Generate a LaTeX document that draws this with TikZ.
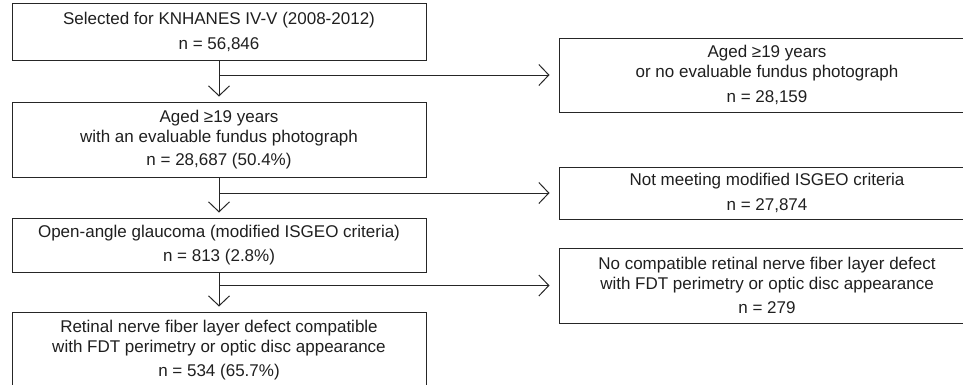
\documentclass[tikz,border=0pt]{standalone}
\usepackage{fontspec}
\setmainfont{Liberation Sans}
\usetikzlibrary{arrows.meta}
\begin{document}
\begin{tikzpicture}[x=1pt,y=-1pt,
  box/.style={draw=black!85, line width=1pt, inner sep=0pt, align=center, text=black!88,
    font=\fontsize{17}{20}\selectfont},
  lbox/.style={box, minimum width=414pt},
  rbox/.style={box, minimum width=416pt},
  arr/.style={draw=black!85, line width=1pt, -{Straight Barb[length=10pt,width=21pt]}}]
\useasboundingbox (0,0) rectangle (963,384);
\clip (0,0) rectangle (963,384);
% left column
\node[lbox, minimum height=57pt] (b1) at (219,31.5) {Selected for KNHANES IV-V (2008-2012)\\[5pt] n = 56,846};
\node[lbox, minimum height=75pt] (b2) at (219,139.5) {Aged ≥19 years\\ with an evaluable fundus photograph\\[3.5pt] n = 28,687 (50.4\%)};
\node[lbox, minimum height=54pt] (b3) at (219,245) {Open-angle glaucoma (modified ISGEO criteria)\\[3.5pt] n = 813 (2.8\%)};
\node[lbox, minimum height=76pt] (b4) at (219,350) {Retinal nerve fiber layer defect compatible\\ with FDT perimetry or optic disc appearance\\[3.5pt] n = 534 (65.7\%)};
% right column
\node[rbox, minimum height=74pt] (r1) at (767,75) {Aged ≥19 years\\ or no evaluable fundus photograph\\[4.5pt] n = 28,159};
\node[rbox, minimum height=52pt] (r2) at (767,193) {Not meeting modified ISGEO criteria\\[4.5pt] n = 27,874};
\node[rbox, minimum height=75pt] (r3) at (767,285.5) {No compatible retinal nerve fiber layer defect\\ with FDT perimetry or optic disc appearance\\[4.5pt] n = 279};
% vertical arrows
\draw[arr, shorten >=5pt] (b1.south) -- (b2.north);
\draw[arr, shorten >=5pt] (b2.south) -- (b3.north);
\draw[arr, shorten >=5pt] (b3.south) -- (b4.north);
% branches
\draw[arr, shorten >=9pt] (b1.south |- r1.west) -- (r1.west);
\draw[arr, shorten >=9pt] (b2.south |- r2.west) -- (r2.west);
\draw[arr, shorten >=9pt] (b3.south |- r3.west) -- (r3.west);
\end{tikzpicture}
\end{document}
